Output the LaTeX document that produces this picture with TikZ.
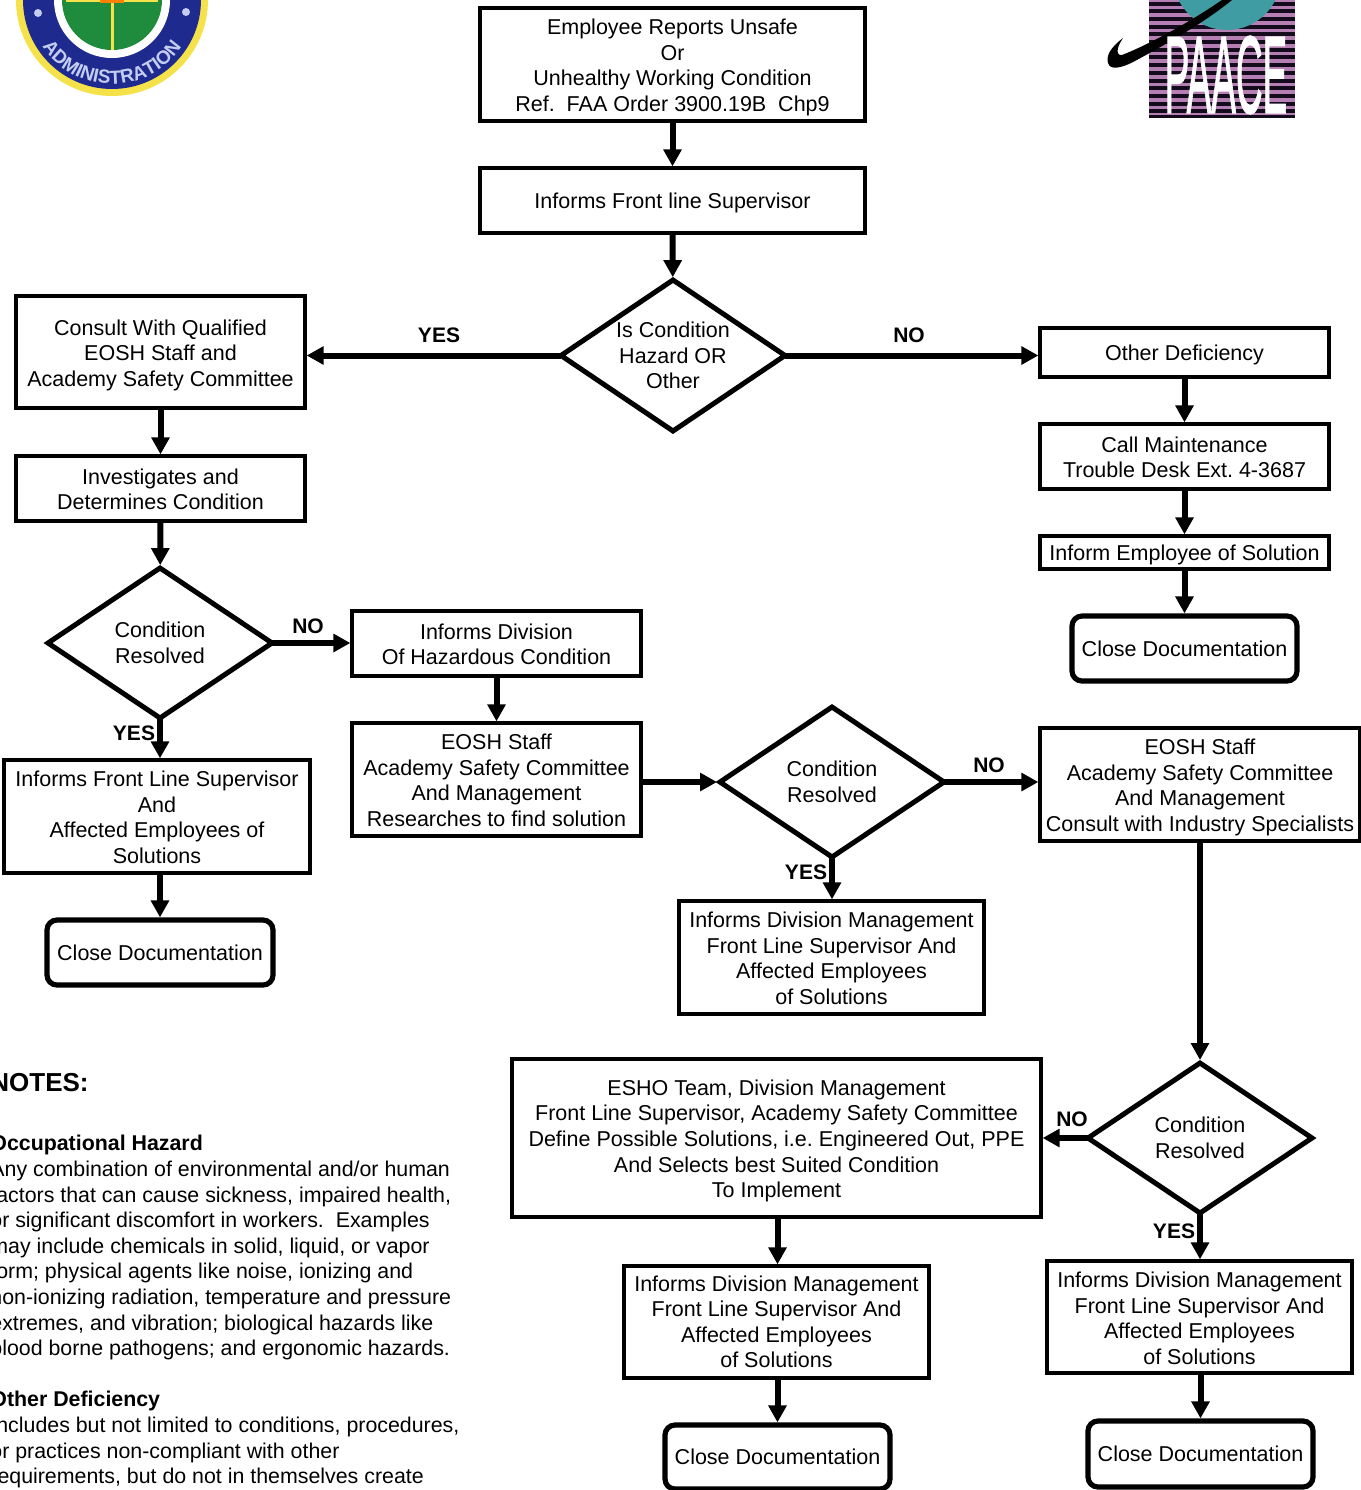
\documentclass[tikz,border=0pt]{standalone}
\usepackage{fontspec}
\setmainfont{Liberation Sans}
\newfontfamily\paacefont[FakeBold=1.5]{Liberation Sans}
\usetikzlibrary{arrows.meta,shapes.geometric,decorations.text}
\frenchspacing
\definecolor{sealblue}{HTML}{1E2A8E}
\definecolor{sealyellow}{HTML}{F5E24A}
\definecolor{sealgreen}{HTML}{1F8B3C}
\definecolor{sealtext}{HTML}{C4CCF0}
\definecolor{paacepink}{HTML}{B67FB4}
\definecolor{paacedark}{HTML}{140C1C}
\definecolor{paaceteal}{HTML}{3F9CA2}
\tikzset{
  chart/.style={draw=black,line width=1.65pt,align=center,inner sep=0pt,
    font=\fontsize{10.75}{12.8}\selectfont},
  nudge/.style={execute at begin node=\rule{0pt}{#1pt}},
  closebox/.style={chart,line width=2.6pt,rounded corners=5pt},
  choice/.style={chart,diamond,line width=2.5pt,outer sep=0pt},
  flow/.style={line width=3pt,-{Triangle[length=8.5pt,width=8.8pt]}},
  intoapex/.style={flow,shorten >=1.5pt},
  answer/.style={font=\fontsize{10.5}{12}\selectfont\bfseries,inner sep=0pt},
  notes/.style={anchor=north west,align=left,inner sep=0pt,
    font=\fontsize{10.68}{12.8}\selectfont}
}
\newcommand{\lines}[2]{\raisebox{#1pt}[\height][\depth]{\begin{tabular}{@{}c@{}}#2\end{tabular}}}
\newcommand{\pbox}[7]{%
  \pgfmathsetmacro{\cxv}{(#3+#5)/2}%
  \pgfmathsetmacro{\cyv}{(#4+#6)/2}%
  \pgfmathsetmacro{\wv}{(#5-#3)*0.5}%
  \pgfmathsetmacro{\hv}{(#6-#4)*0.5}%
  \node[#1,minimum width=\wv pt,minimum height=\hv pt] (#2) at (\cxv,\cyv) {#7};}
\newcommand{\pdiam}[7]{%
  \pgfmathsetmacro{\cxv}{(#3+#5)/2}%
  \pgfmathsetmacro{\cyv}{(#4+#6)/2}%
  \pgfmathsetmacro{\wv}{(#5-#3)*0.5}%
  \pgfmathsetmacro{\hv}{(#6-#4)*0.5}%
  \pgfmathsetmacro{\av}{(#5-#3)/(#6-#4)}%
  \node[#1,aspect=\av,minimum width=\wv pt,minimum height=\hv pt] (#2) at (\cxv,\cyv) {#7};}
\begin{document}
\begin{tikzpicture}[x=0.5pt,y=-0.5pt]
\useasboundingbox (0,0) rectangle (1361,1490);
\clip (0,0) rectangle (1361,1490);
% FAA seal
\fill[sealyellow] (112,0) circle[x radius=96,y radius=96];
\fill[sealblue] (112,0) circle[x radius=89,y radius=89];
\fill[white] (112,0) circle[x radius=58,y radius=58];
\fill[sealgreen] (112,0) circle[x radius=50,y radius=50];
\fill[sealyellow] (110.5,0) rectangle (113.5,50);
\fill[sealyellow] (66,0) rectangle (158,2);
\fill[orange] (100,0) rectangle (124,3);
\fill[sealtext] (38,13) circle[x radius=4,y radius=4];
\fill[sealtext] (186,12) circle[x radius=4,y radius=4];
\path[decorate,decoration={text along path,text align=center,
  text={|\fontsize{9.5}{11}\selectfont\bfseries\color{sealtext}|ADMINISTRATION}}]
  (39.3,42) .. controls (71.6,98) and (152.4,98) .. (184.7,42);
% PAACE logo
\fill[paacepink] (1149,0) rectangle (1295,118);
\foreach \s in {0,...,14}{\fill[paacedark] (1149,\s*7.7+1.5) rectangle (1295,\s*7.7+5.5);}
\fill[paacedark] (1149,115) rectangle (1295,118);
\fill[paaceteal] (1227,-24) circle[x radius=54,y radius=54];
\fill[black] (1123,38) .. controls (1110,48) and (1106,56) .. (1108,63)
  .. controls (1110,70) and (1120,69) .. (1135,61)
  .. controls (1170,42) and (1205,22) .. (1232,0)
  -- (1222,0) .. controls (1190,22) and (1150,44) .. (1122,55)
  .. controls (1116,56) and (1116,48) .. (1123,38) -- cycle;
\node[white,inner sep=0pt,xscale=.336,font=\fontsize{55}{56}\paacefont] (paace) at (1226,75) {PAACE};
% Boxes
\pbox{chart}{report}{480}{8}{865}{121}{\lines{-1.7}{Employee Reports Unsafe\\Or\\Unhealthy Working Condition\\Ref.\ \ FAA Order 3900.19B\ \ Chp9}}
\pbox{chart,nudge=9.8}{front}{480}{168}{865}{233}{Informs Front line Supervisor}
\pdiam{choice}{hazard}{561}{280}{785}{431}{Is Condition\\Hazard OR\\Other}
\pbox{chart}{consult}{16}{296}{305}{408}{\lines{-1.9}{Consult With Qualified\\EOSH Staff and\\Academy Safety Committee}}
\pbox{chart,nudge=9.8}{other}{1040}{328}{1329}{377}{Other Deficiency}
\pbox{chart}{call}{1040}{424}{1329}{489}{\lines{-1.7}{Call Maintenance\\Trouble Desk Ext. 4-3687}}
\pbox{chart,nudge=9.8}{inform}{1040}{536}{1329}{569}{Inform Employee of Solution}
\pbox{closebox}{closea}{1072}{616}{1297}{681}{Close Documentation}
\pbox{chart}{invest}{16}{456}{305}{521}{\lines{-1.7}{Investigates and\\Determines Condition}}
\pdiam{choice}{resa}{48}{568}{272}{718}{Condition\\Resolved}
\pbox{chart}{division}{352}{611}{641}{676}{\lines{-1.7}{Informs Division\\Of Hazardous Condition}}
\pbox{chart}{fls}{4}{760}{310}{873}{\lines{-1.7}{Informs Front Line Supervisor\\And\\Affected Employees of\\Solutions}}
\pbox{closebox}{closeb}{47}{920}{273}{985}{Close Documentation}
\pbox{chart}{staffa}{352}{723}{641}{836}{\lines{-1.7}{EOSH Staff\\Academy Safety Committee\\And Management\\Researches to find solution}}
\pdiam{choice}{resb}{720}{707}{944}{857}{Condition\\Resolved}
\pbox{chart}{infoa}{679}{901}{984}{1014}{\lines{-1.7}{Informs Division Management\\Front Line Supervisor And\\Affected Employees\\of Solutions}}
\pbox{chart}{staffb}{1040}{728}{1360}{841}{\lines{-1.7}{EOSH Staff\\Academy Safety Committee\\And Management\\Consult with Industry Specialists}}
\pdiam{choice}{resc}{1088}{1063}{1312}{1213}{Condition\\Resolved}
\pbox{chart}{esho}{512}{1059}{1041}{1217}{\lines{-1.7}{ESHO Team, Division Management\\Front Line Supervisor, Academy Safety Committee\\Define Possible Solutions, i.e. Engineered Out, PPE\\And Selects best Suited Condition\\To Implement}}
\pbox{chart}{infob}{624}{1266}{929}{1378}{\lines{-1.2}{Informs Division Management\\Front Line Supervisor And\\Affected Employees\\of Solutions}}
\pbox{chart}{infoc}{1047}{1261}{1352}{1373}{\lines{-1.9}{Informs Division Management\\Front Line Supervisor And\\Affected Employees\\of Solutions}}
\pbox{closebox}{closec}{665}{1425}{890}{1489}{Close Documentation}
\pbox{closebox}{closed}{1088}{1421}{1313}{1487}{Close Documentation}
% Connectors
\draw[flow] (report) -- (front);
\draw[intoapex] (front) -- (hazard);
\draw[flow] (hazard.west) -- (consult.east |- hazard.west);
\draw[flow] (hazard.east) -- (other.west |- hazard.east);
\draw[flow] (other) -- (call);
\draw[flow] (call) -- (inform);
\draw[flow] (inform) -- (closea);
\draw[flow] (consult) -- (invest);
\draw[intoapex] (invest) -- (resa);
\draw[flow] (resa.east) -- (division.west |- resa.east);
\draw[flow] (resa.south) -- (resa.south |- fls.north);
\draw[flow] (closeb.north |- fls.south) -- (closeb.north);
\draw[flow] (division) -- (staffa);
\draw[intoapex] (staffa.east |- resb.west) -- (resb.west);
\draw[flow] (resb.east) -- (staffb.west |- resb.east);
\draw[flow] (resb.south) -- (resb.south |- infoa.north);
\draw[intoapex] (staffb.south) -- (resc.north);
\draw[flow] (resc.west) -- (esho.east |- resc.west);
\draw[flow] (resc.south) -- (resc.south |- infoc.north);
\draw[flow] (closed.north |- infoc.south) -- (closed.north);
\draw[flow] (closec.north |- esho.south) -- (closec.north |- infob.north);
\draw[flow] (closec.north |- infob.south) -- (closec.north);
% Answers
\node[answer] (yesa) at (439,335) {YES};
\node[answer] (noa) at (909,335) {NO};
\node[answer] (nob) at (308,626) {NO};
\node[answer] (yesb) at (134,733) {YES};
\node[answer] (noc) at (989,765) {NO};
\node[answer] (yesc) at (806,872) {YES};
\node[answer] (nod) at (1072,1119) {NO};
\node[answer] (yesd) at (1174,1231) {YES};
% Notes
\node[anchor=base west,inner sep=0pt,font=\fontsize{13}{15}\selectfont\bfseries] (noteshead) at (-10,1091) {NOTES:};
\node[notes] (notestext) at (-10,1135) {\textbf{Occupational Hazard}\\
Any combination of environmental and/or human\\
factors that can cause sickness, impaired health,\\
or significant discomfort in workers.\ \ Examples\\
may include chemicals in solid, liquid, or vapor\\
form; physical agents like noise, ionizing and\\
non-ionizing radiation, temperature and pressure\\
extremes, and vibration; biological hazards like\\
blood borne pathogens; and ergonomic hazards.\\[12.8pt]
\textbf{Other Deficiency}\\
Includes but not limited to conditions, procedures,\\
or practices non-compliant with other\\
requirements, but do not in themselves create};
\end{tikzpicture}
\end{document}
